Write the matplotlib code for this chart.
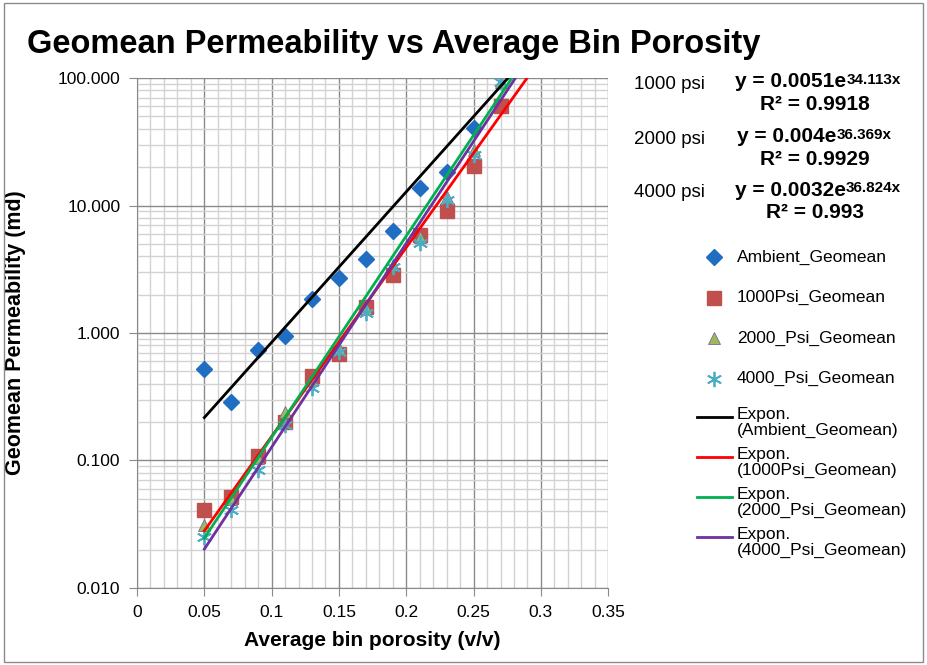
import numpy as np
import matplotlib.pyplot as plt
from matplotlib.lines import Line2D
from matplotlib.patches import Rectangle
from matplotlib.text import Annotation
from matplotlib.ticker import FixedLocator, FuncFormatter, LogLocator

plt.rcParams.update({
    'font.family': ['Liberation Sans', 'DejaVu Sans'],
})

# data (ambient at 0.27 sits above the 100 md limit)
porosity = [0.05, 0.07, 0.09, 0.11, 0.13, 0.15, 0.17, 0.19, 0.21, 0.23, 0.25, 0.27]
ambient = [0.52, 0.29, 0.73, 0.94, 1.86, 2.69, 3.78, 6.3, 13.8, 18.4, 40.7, 330]
psi1000 = [0.041, 0.052, 0.109, 0.20, 0.46, 0.68, 1.61, 2.85, 5.9, 9.1, 20.4, 60]
psi2000 = [0.031, 0.050, 0.105, 0.24, 0.43, 0.76, 1.57, 3.4, 5.7, 11.7, 27.2, 93]
psi4000 = [0.025, 0.041, 0.084, 0.19, 0.37, 0.71, 1.43, 3.3, 5.05, 11.0, 25.0, 93]

series_names = ['Ambient_Geomean', '1000Psi_Geomean', '2000_Psi_Geomean', '4000_Psi_Geomean']
pressure_labels = ['1000 psi', '2000 psi', '4000 psi']
fit_a = ['0.0051', '0.004', '0.0032']
fit_b = ['34.113', '36.369', '36.824']
fit_r2 = ['0.9918', '0.9929', '0.993']

marker_styles = [
    dict(marker='D', color='#1F6EC1', ms=8, mec='#1F6EC1'),
    dict(marker='s', color='#C0504D', ms=10, mec='#C0504D'),
    dict(marker='^', color='#9BBB59', ms=9, mec='#8064A2', mew=0.6),
    dict(marker=(6, 2, 0), color='#4BACC6', ms=11, mec='#4BACC6', mew=1.3),
]
line_colors = ['black', '#FF0000', '#00B050', '#7030A0']

fig = plt.figure(figsize=(9.27, 6.65), dpi=100)
ax = fig.add_axes([0.1478, 0.1158, 0.5083, 0.7669])

all_y = [ambient, psi1000, psi2000, psi4000]
for ys, st, name in zip(all_y, marker_styles, series_names):
    ax.plot(porosity, ys, ls='none', zorder=3, label=name, **st)

# exponential trendlines (ambient fitted, the others from the printed equations)
xfit = np.linspace(0.05, 0.30, 200)
amb_b, amb_ln_a = np.polyfit(porosity, np.log(ambient), 1)
curves = [np.exp(amb_ln_a) * np.exp(amb_b * xfit)]
for a, b in zip(fit_a, fit_b):
    curves.append(float(a) * np.exp(float(b) * xfit))
for yc, c in zip(curves, line_colors):
    ax.plot(xfit, yc, color=c, lw=2, zorder=4)

ax.set_yscale('log')
ax.set_xlim(0, 0.35)
ax.set_ylim(0.01, 100)
ax.xaxis.set_major_locator(FixedLocator(np.arange(0, 0.351, 0.05)))
ax.xaxis.set_minor_locator(FixedLocator(np.arange(0, 0.351, 0.01)))
ax.xaxis.set_major_formatter(FuncFormatter(lambda v, p: '0' if v == 0 else f'{v:g}'))
ax.yaxis.set_major_locator(LogLocator(base=10))
ax.yaxis.set_minor_locator(LogLocator(base=10, subs=np.arange(2, 10)))
ax.yaxis.set_major_formatter(FuncFormatter(lambda v, p: f'{v:.3f}'))
ax.yaxis.set_minor_formatter(FuncFormatter(lambda v, p: ''))

ax.grid(True, which='major', color='#8a8a8a', lw=1)
ax.grid(True, which='minor', color='#d2d2d2', lw=1)
ax.set_axisbelow(True)
for s in ['top', 'right']:
    ax.spines[s].set_visible(False)
for s in ['left', 'bottom']:
    ax.spines[s].set_color('#8a8a8a')
ax.tick_params(which='major', direction='out', length=6, color='#8a8a8a', labelsize=12.5, pad=6)
ax.tick_params(which='minor', length=0)

ax.set_xlabel('Average bin porosity (v/v)', fontsize=15, fontweight='bold', labelpad=8)
ax.set_ylabel('Geomean Permeability (md)', fontsize=15.5, fontweight='bold')
ax.yaxis.set_label_coords(-0.236, 0.5)

fig.text(0.029, 0.933, 'Geomean Permeability vs Average Bin Porosity',
         fontsize=23.5, fontweight='bold', va='center', ha='left')

# trendline equations
eq_y = [0.873, 0.790, 0.710]
eq_x = [0.793, 0.795, 0.793]
for lab, a, b, r2, yy, xx in zip(pressure_labels, fit_a, fit_b, fit_r2, eq_y, eq_x):
    fig.text(0.722, yy, lab, fontsize=13.5, ha='center', va='center')
    main = fig.text(xx, yy + 0.004, 'y = ' + a + 'e', fontsize=15, fontweight='bold',
                    ha='left', va='center')
    fig.add_artist(Annotation(b + 'x', xy=(1.0, 0.97), xycoords=main, fontsize=11,
                              fontweight='bold', ha='left', va='top'))
    fig.text(0.879, yy - 0.030, 'R² = ' + r2, fontsize=15, fontweight='bold',
             ha='center', va='center')

# legend drawn by hand to match the layout
for i, (name, st) in enumerate(zip(series_names, marker_styles)):
    yy = 1 - (257 + 40.5 * i) / 665
    fig.add_artist(Line2D([714 / 927], [yy], transform=fig.transFigure, ls='none', **st))
    fig.text(737 / 927, yy, name, fontsize=12.5, va='center', ha='left')
for i, (name, c) in enumerate(zip(series_names, line_colors)):
    yy = 1 - (417 + 40 * i) / 665
    fig.add_artist(Line2D([697 / 927, 732 / 927], [yy, yy], transform=fig.transFigure, color=c, lw=2))
    fig.text(737 / 927, yy + 0.015, 'Expon.\n(' + name + ')', fontsize=12.5, va='top', ha='left',
             linespacing=1.05)

fig.add_artist(Rectangle((0.004, 0.004), 0.992, 0.992, transform=fig.transFigure,
                         fill=False, edgecolor='#8a8a8a', lw=1))

fig.savefig('out.png', dpi=100)
